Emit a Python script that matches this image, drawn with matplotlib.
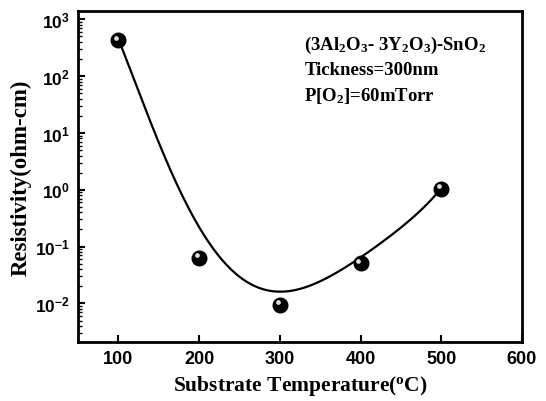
import numpy as np
import matplotlib
matplotlib.use("Agg")
import matplotlib.pyplot as plt
from matplotlib.ticker import LogLocator, FixedLocator, FixedFormatter, NullFormatter
import matplotlib.transforms as mtransforms

plt.rcParams['mathtext.fontset'] = 'custom'
plt.rcParams['mathtext.rm'] = 'Liberation Serif:bold'
plt.rcParams['mathtext.it'] = 'Liberation Serif:bold'
plt.rcParams['mathtext.bf'] = 'Liberation Serif:bold'
plt.rcParams['mathtext.sf'] = 'Liberation Sans:bold'

# data
temperature = [100, 200, 300, 400, 500]
resistivity = [435, 0.064, 0.0095, 0.052, 1.05]

# fitted guide curve
curve_x = [100, 151, 167.5, 180, 199, 230, 264, 301, 342.5, 401, 451, 499]
curve_logy = [2.64, 0.89, 0.20, -0.16, -0.66, -1.26, -1.63, -1.78, -1.66, -1.22, -0.62, 0.0]

xticks = [100, 200, 300, 400, 500, 600]
yticks = [1e-2, 1e-1, 1e0, 1e1, 1e2, 1e3]
ytick_labels = [r'$\mathsf{10^{-2}}$', r'$\mathsf{10^{-1}}$', r'$\mathsf{10^{0}}$',
                r'$\mathsf{10^{1}}$', r'$\mathsf{10^{2}}$', r'$\mathsf{10^{3}}$']

fig = plt.figure(figsize=(5.46, 4.02), dpi=100)
ax = fig.add_axes([0.143, 0.147, 0.813, 0.823])

coef = np.polyfit(curve_x, curve_logy, 5)
xs = np.linspace(curve_x[0], curve_x[-1], 300)
ax.plot(xs, 10 ** np.polyval(coef, xs), color='black', lw=1.6, zorder=2)

ax.plot(temperature, resistivity, 'o', color='black', ms=10.5, zorder=3)
hl = mtransforms.offset_copy(ax.transData, fig=fig, x=-1.6, y=1.6, units='points')
ax.plot(temperature, resistivity, 'o', color='#e0e0e0', ms=3.4, mec='none',
        transform=hl, zorder=4)

ax.set_yscale('log')
ax.set_xlim(50, 600)
ax.set_ylim(2.1e-3, 1.4e3)

ax.xaxis.set_major_locator(FixedLocator(xticks))
ax.set_xticklabels([str(t) for t in xticks], family='Liberation Sans',
                   weight='bold', fontsize=13)
ax.yaxis.set_major_locator(FixedLocator(yticks))
ax.yaxis.set_major_formatter(FixedFormatter(ytick_labels))
ax.yaxis.set_minor_locator(LogLocator(base=10, subs=np.arange(2, 10)))
ax.yaxis.set_minor_formatter(NullFormatter())
for lab in ax.get_yticklabels():
    lab.set_fontsize(12.5)

ax.tick_params(axis='both', which='major', direction='in', length=5, width=1.5,
               top=False, right=False, pad=6)
ax.tick_params(axis='y', which='minor', direction='in', length=3, width=1.0, right=False)
ax.tick_params(axis='x', which='minor', bottom=False)
for s in ax.spines.values():
    s.set_linewidth(2)

ax.set_xlabel('Substrate Temperature($^{o}$C)', family='Liberation Serif',
              weight='bold', fontsize=15.5, labelpad=4)
ax.set_ylabel('Resistivity(ohm-cm)', family='Liberation Serif',
              weight='bold', fontsize=16.5, labelpad=2)

tkw = dict(transform=ax.transAxes, family='Liberation Serif', weight='bold',
           fontsize=13.5, ha='left', va='center')
ax.text(0.51, 0.90, r'(3Al$_2$O$_3$- 3Y$_2$O$_3$)-SnO$_2$', **tkw)
ax.text(0.51, 0.822, 'Tickness=300nm', **tkw)
ax.text(0.51, 0.745, r'P[O$_2$]=60mTorr', **tkw)

fig.savefig('out.png', dpi=100)
